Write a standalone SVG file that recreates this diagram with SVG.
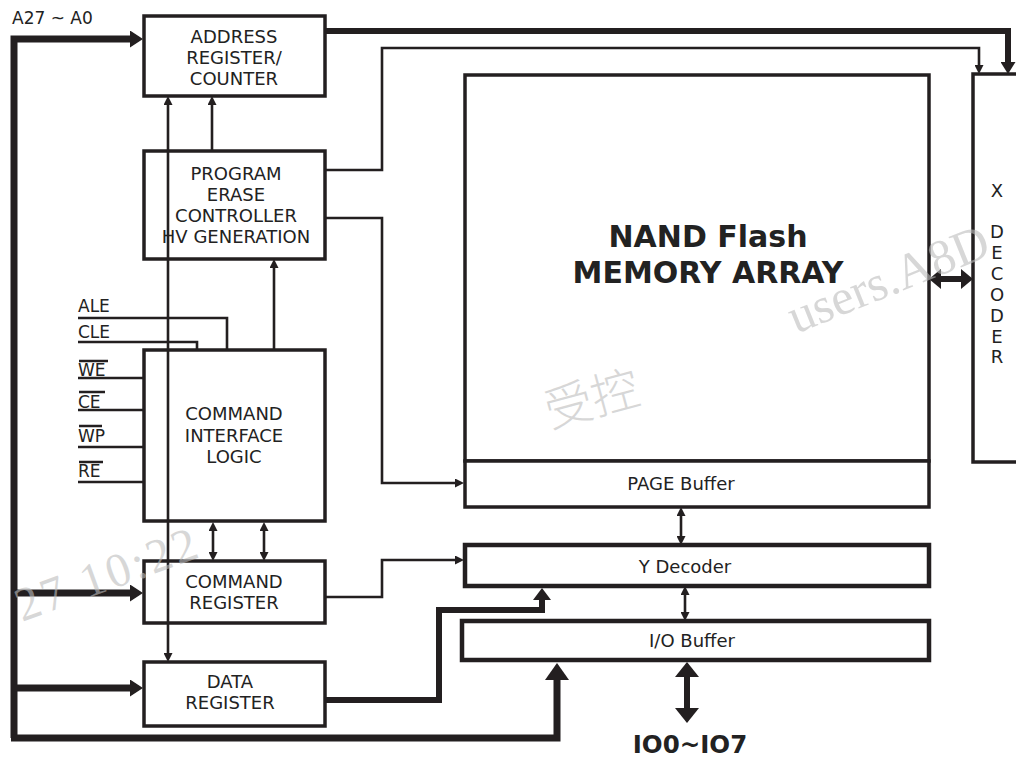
<svg xmlns="http://www.w3.org/2000/svg" width="1016" height="758" viewBox="0 0 1016 758">
<style>
.box{fill:#fff;stroke:#231f20;stroke-width:3.5}
.box2{fill:#fff;stroke:#231f20;stroke-width:4.5}
.t{font-family:"DejaVu Sans","Liberation Sans",sans-serif;font-size:18px;fill:#222;text-anchor:middle}
.tl{font-family:"DejaVu Sans","Liberation Sans",sans-serif;font-size:17px;fill:#222}
.b{font-family:"DejaVu Sans","Liberation Sans",sans-serif;font-weight:bold;fill:#222;text-anchor:middle}
.thin{fill:none;stroke:#231f20;stroke-width:2.6}
.thick{fill:none;stroke:#231f20;stroke-width:6}
.bus{fill:none;stroke:#231f20;stroke-width:7}
.wm{font-family:"Liberation Serif",serif;fill:#bdbdbd;fill-opacity:0.6}
</style>
<defs>
<marker id="s" markerUnits="userSpaceOnUse" markerWidth="9" markerHeight="9" viewBox="0 0 9 9" refX="0" refY="4.5" orient="auto-start-reverse"><path d="M0 0L9 4.5L0 9Z" fill="#231f20"/></marker>
<marker id="b" markerUnits="userSpaceOnUse" markerWidth="13" markerHeight="17" viewBox="0 0 13 17" refX="0" refY="8.5" orient="auto-start-reverse"><path d="M0 0L13 8.5L0 17Z" fill="#231f20"/></marker>
<marker id="a" markerUnits="userSpaceOnUse" markerWidth="12" markerHeight="15" viewBox="0 0 12 15" refX="0" refY="7.5" orient="auto-start-reverse"><path d="M0 0L12 7.5L0 15Z" fill="#231f20"/></marker>
<marker id="d" markerUnits="userSpaceOnUse" markerWidth="12" markerHeight="18" viewBox="0 0 12 18" refX="0" refY="9" orient="auto-start-reverse"><path d="M0 0L12 9L0 18Z" fill="#231f20"/></marker>
<marker id="bb" markerUnits="userSpaceOnUse" markerWidth="17" markerHeight="24" viewBox="0 0 17 24" refX="0" refY="12" orient="auto-start-reverse"><path d="M0 0L17 12L0 24Z" fill="#231f20"/></marker>
<marker id="x" markerUnits="userSpaceOnUse" markerWidth="12" markerHeight="20" viewBox="0 0 12 20" refX="0" refY="10" orient="auto-start-reverse"><path d="M0 0L12 10L0 20Z" fill="#231f20"/></marker>
<marker id="io" markerUnits="userSpaceOnUse" markerWidth="15" markerHeight="24" viewBox="0 0 15 24" refX="0" refY="12" orient="auto-start-reverse"><path d="M0 0L15 12L0 24Z" fill="#231f20"/></marker>
</defs>
<rect width="1016" height="758" fill="#fff"/>

<g id="address-register">
<rect class="box" x="144" y="16" width="181" height="80"/>
<text class="t" x="234" y="43">ADDRESS</text>
<text class="t" x="234" y="64">REGISTER/</text>
<text class="t" x="234" y="85">COUNTER</text>
</g>
<g id="program-erase-controller">
<rect class="box" x="144" y="151" width="181" height="108"/>
<text class="t" x="236" y="180">PROGRAM</text>
<text class="t" x="236" y="201">ERASE</text>
<text class="t" x="236" y="222">CONTROLLER</text>
<text class="t" x="236" y="243">HV GENERATION</text>
</g>
<g id="command-interface-logic">
<rect class="box" x="144" y="350" width="181" height="171"/>
<text class="t" x="234" y="420">COMMAND</text>
<text class="t" x="234" y="442">INTERFACE</text>
<text class="t" x="234" y="463">LOGIC</text>
</g>
<g id="command-register">
<rect class="box" x="144" y="561" width="181" height="62"/>
<text class="t" x="234" y="588">COMMAND</text>
<text class="t" x="234" y="609">REGISTER</text>
</g>
<g id="data-register">
<rect class="box" x="144" y="662" width="181" height="64"/>
<text class="t" x="230" y="688">DATA</text>
<text class="t" x="230" y="709">REGISTER</text>
</g>
<g id="memory-array">
<rect class="box" x="465" y="75" width="464" height="386"/>
<text class="b" x="708" y="247" font-size="30">NAND Flash</text>
<text class="b" x="708" y="283" font-size="30">MEMORY ARRAY</text>
</g>
<g id="page-buffer">
<rect class="box" x="465" y="461" width="464" height="46"/>
<text class="t" x="681" y="490" font-size="17">PAGE Buffer</text>
</g>
<g id="y-decoder">
<rect class="box2" x="465" y="545" width="464" height="41"/>
<text class="t" x="685" y="573" font-size="17">Y Decoder</text>
</g>
<g id="io-buffer">
<rect class="box2" x="462" y="621" width="467" height="39"/>
<text class="t" x="692" y="647" font-size="17">I/O Buffer</text>
</g>
<g id="x-decoder">
<rect class="box" x="973" y="74" width="60" height="388"/>
<text class="t" x="997" y="197" font-size="16">X</text>
<text class="t" x="997" y="238" font-size="16">D</text>
<text class="t" x="997" y="259" font-size="16">E</text>
<text class="t" x="997" y="280" font-size="16">C</text>
<text class="t" x="997" y="301" font-size="16">O</text>
<text class="t" x="997" y="322" font-size="16">D</text>
<text class="t" x="997" y="343" font-size="16">E</text>
<text class="t" x="997" y="363" font-size="16">R</text>
</g>

<g id="labels">
<text class="tl" x="12" y="24">A27 ~ A0</text>
<text class="tl" x="78" y="312">ALE</text>
<text class="tl" x="78" y="338">CLE</text>
<text class="tl" x="78" y="376">WE</text>
<text class="tl" x="78" y="408">CE</text>
<text class="tl" x="78" y="442">WP</text>
<text class="tl" x="78" y="477">RE</text>
<text class="b" x="690" y="753" font-size="24.5">IO0~IO7</text>
</g>

<g id="connectors">
<path class="bus" d="M14 738V39H130" marker-end="url(#b)" stroke-linejoin="miter"/>
<path class="bus" d="M14 593H130" marker-end="url(#b)"/>
<path class="bus" d="M14 688H130" marker-end="url(#b)"/>
<path class="bus" d="M11 738H557V680" marker-end="url(#bb)" stroke-width="6.5"/>
<path class="thick" d="M325 31H1008V62" marker-end="url(#a)"/>
<path class="thin" d="M325 170H382V48H979V65" marker-end="url(#s)"/>
<path class="thin" d="M325 218H382V483H455" marker-end="url(#s)"/>
<path class="thin" d="M168 105V653" marker-start="url(#s)" marker-end="url(#s)"/>
<path class="thin" d="M212 151V105" marker-end="url(#s)"/>
<path class="thin" d="M274 350V268" marker-end="url(#s)"/>
<path class="thin" d="M78 318H227V350" stroke-width="3"/>
<path class="thin" d="M78 342H197V350" stroke-width="3"/>
<path class="thin" d="M78 378H144M78 410H144M78 447H144M78 482H144" stroke-width="3"/>
<path class="thin" d="M79 361H108M79 392H105M79 426H102M79 462H103" stroke-width="2.5"/>
<path class="thin" d="M213 531V552" marker-start="url(#s)" marker-end="url(#s)"/>
<path class="thin" d="M264 531V552" marker-start="url(#s)" marker-end="url(#s)"/>
<path class="thin" d="M325 597H382V560H455" marker-end="url(#s)"/>
<path class="thick" d="M325 700H439V610H542V600" marker-end="url(#d)"/>
<path class="thin" d="M681 516V536" stroke-width="3" marker-start="url(#s)" marker-end="url(#s)"/>
<path class="thin" d="M685 595V612" stroke-width="3" marker-start="url(#s)" marker-end="url(#s)"/>
<path class="thick" d="M941 279H961" marker-start="url(#x)" marker-end="url(#x)"/>
<path class="thick" d="M687 677V708" stroke-width="8" marker-start="url(#io)" marker-end="url(#io)"/>
</g>

<g id="watermarks">
<text class="wm" font-size="48" transform="translate(550 428) rotate(-15)" style="font-family:'Noto Sans CJK SC',sans-serif;font-weight:300">受控</text>
<text class="wm" font-size="50" transform="translate(796 334) rotate(-22)">users.A8D</text>
<text class="wm" font-size="48" letter-spacing="3" transform="translate(22 622) rotate(-20)">27 10:22</text>
</g>
</svg>
